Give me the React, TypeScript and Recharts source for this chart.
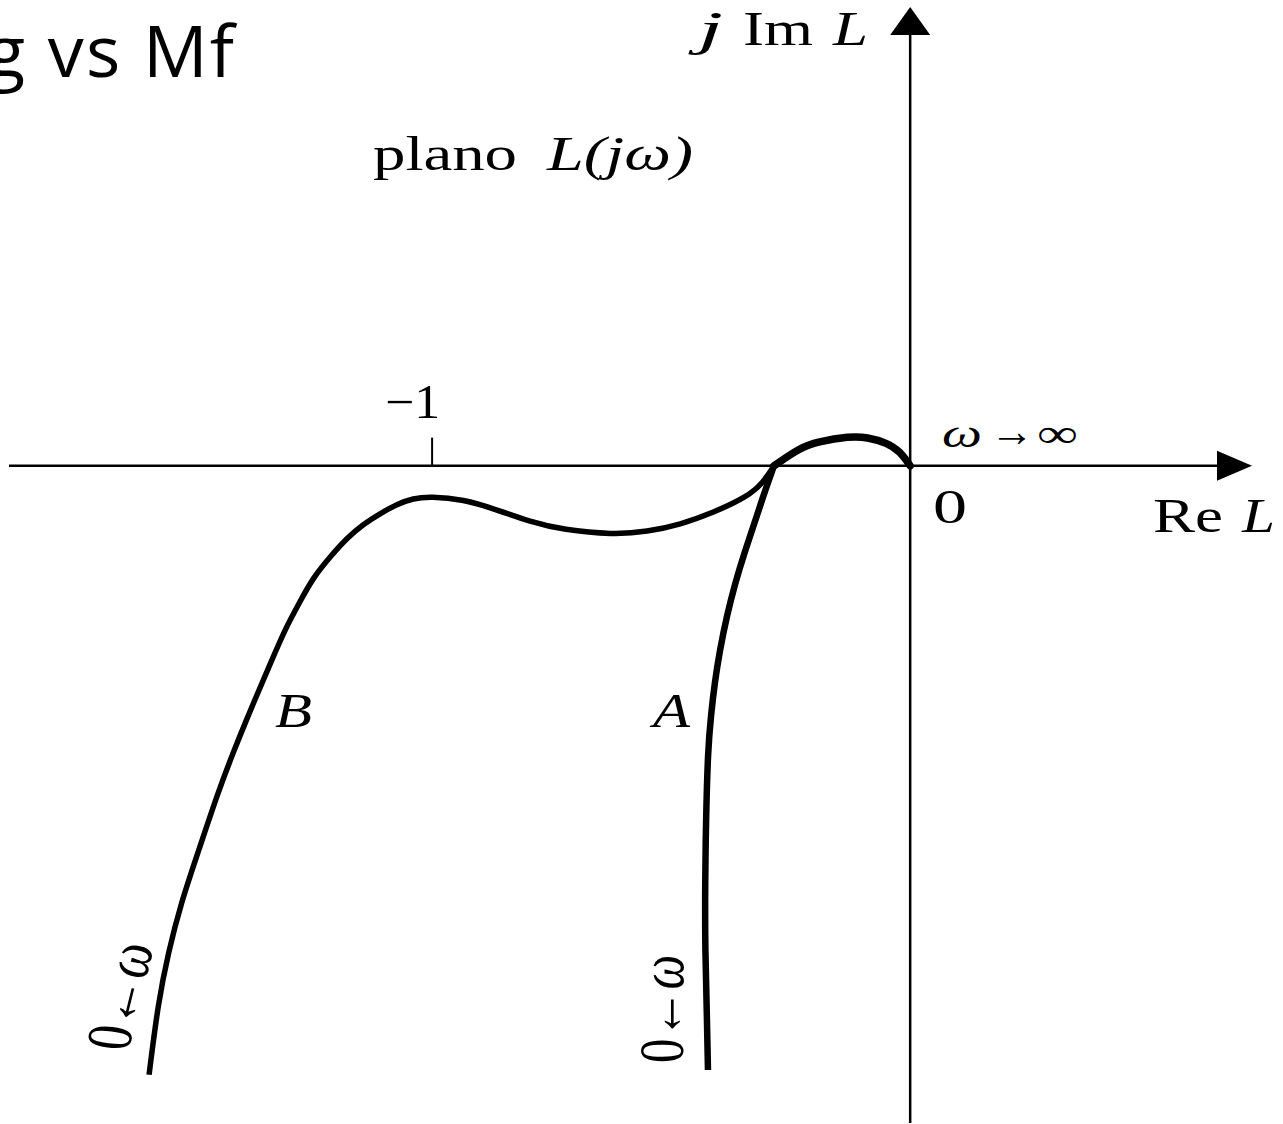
import { LineChart, Line, XAxis, YAxis, ReferenceLine } from "recharts";

type Pt = { re: number; im: number };

// Re/Im samples of L(jω), read in units where −1 is the critical point
const branchB: Pt[] = [
  { re: -1.592, im: -1.274 },
  { re: -1.573, im: -1.123 },
  { re: -1.552, im: -1.019 },
  { re: -1.525, im: -0.914 },
  { re: -1.49, im: -0.81 },
  { re: -1.446, im: -0.678 },
  { re: -1.416, im: -0.6 },
  { re: -1.391, im: -0.538 },
  { re: -1.362, im: -0.469 },
  { re: -1.335, im: -0.406 },
  { re: -1.308, im: -0.343 },
  { re: -1.278, im: -0.287 },
  { re: -1.249, im: -0.234 },
  { re: -1.213, im: -0.19 },
  { re: -1.178, im: -0.151 },
  { re: -1.144, im: -0.122 },
  { re: -1.109, im: -0.1 },
  { re: -1.073, im: -0.08 },
  { re: -1.04, im: -0.068 },
  { re: -1.004, im: -0.064 },
  { re: -0.935, im: -0.07 },
  { re: -0.864, im: -0.092 },
  { re: -0.795, im: -0.117 },
  { re: -0.726, im: -0.134 },
  { re: -0.621, im: -0.144 },
  { re: -0.55, im: -0.138 },
  { re: -0.481, im: -0.123 },
  { re: -0.412, im: -0.098 },
  { re: -0.341, im: -0.065 },
  { re: -0.308, im: -0.036 },
  { re: -0.285, im: 0 },
];

// ordered from the crossing down to ω → 0
const branchA: Pt[] = [
  { re: -0.285, im: 0 },
  { re: -0.308, im: -0.065 },
  { re: -0.329, im: -0.13 },
  { re: -0.346, im: -0.18 },
  { re: -0.366, im: -0.245 },
  { re: -0.384, im: -0.316 },
  { re: -0.398, im: -0.385 },
  { re: -0.409, im: -0.454 },
  { re: -0.417, im: -0.525 },
  { re: -0.423, im: -0.594 },
  { re: -0.427, im: -0.734 },
  { re: -0.429, im: -0.872 },
  { re: -0.429, im: -1.013 },
  { re: -0.425, im: -1.153 },
  { re: -0.423, im: -1.264 },
];

// shared high-frequency part ending at the origin (ω → ∞)
const hfLoop: Pt[] = [
  { re: -0.285, im: 0 },
  { re: -0.23, im: 0.038 },
  { re: -0.195, im: 0.05 },
  { re: -0.126, im: 0.062 },
  { re: -0.09, im: 0.06 },
  { re: -0.048, im: 0.048 },
  { re: -0.021, im: 0.03 },
  { re: 0, im: 0 },
];

const reDomain: [number, number] = [-1.885, 0.715];
const imDomain: [number, number] = [-1.375, 0.96];
const criticalRe = -1;

const W = 1283;
const H = 1124;
const serif = "'Liberation Serif', 'Times New Roman', serif";

function HorizontalArrow(p: any) {
  const x1 = Math.min(p.x1, p.x2);
  const x2 = Math.max(p.x1, p.x2);
  const y = p.y1;
  return (
    <g>
      <line x1={x1} y1={y} x2={x2 - 20} y2={y} stroke="#000" strokeWidth={2.5} />
      <polygon points={`${x2},${y} ${x2 - 35},${y - 15} ${x2 - 35},${y + 15}`} fill="#000" />
    </g>
  );
}

function VerticalArrow(p: any) {
  const top = Math.min(p.y1, p.y2);
  const bottom = Math.max(p.y1, p.y2);
  const x = p.x1;
  return (
    <g>
      <line x1={x} y1={bottom} x2={x} y2={top + 20} stroke="#000" strokeWidth={2.5} />
      <polygon points={`${x},${top} ${x - 20},${top + 28} ${x + 20},${top + 28}`} fill="#000" />
    </g>
  );
}

function T({
  x,
  y,
  w,
  size = 48,
  italic,
  children,
}: {
  x: number;
  y: number;
  w: number;
  size?: number;
  italic?: boolean;
  children: string;
}) {
  return (
    <text
      x={x}
      y={y}
      textLength={w}
      lengthAdjust="spacingAndGlyphs"
      fontSize={size}
      fontFamily={serif}
      fontStyle={italic ? "italic" : "normal"}
      fill="#000"
    >
      {children}
    </text>
  );
}

// rotated "ω → 0" markers at the low-frequency ends
function LowFreqTag({ x, y, angle }: { x: number; y: number; angle: number }) {
  return (
    <text
      transform={`translate(${x},${y}) scale(1.4,1) rotate(${angle})`}
      textLength={108}
      lengthAdjust="spacingAndGlyphs"
      fontSize={46}
      fontFamily={serif}
      fill="#000"
    >
      0←<tspan fontStyle="italic">ω</tspan>
    </text>
  );
}

export default function App() {
  return (
    <div style={{ position: "absolute", left: 0, top: 0, width: W, height: H, background: "#fff" }}>
      <LineChart width={W} height={H} margin={{ top: 7, right: 31, bottom: 1, left: 9 }}>
        <XAxis type="number" dataKey="re" domain={reDomain} allowDataOverflow hide />
        <YAxis type="number" dataKey="im" domain={imDomain} allowDataOverflow hide />
        <ReferenceLine y={0} shape={HorizontalArrow} />
        <ReferenceLine x={0} shape={VerticalArrow} />
        <ReferenceLine
          segment={[
            { x: criticalRe, y: 0 },
            { x: criticalRe, y: 0.059 },
          ]}
          stroke="#000"
          strokeWidth={2}
        />
        <Line
          data={branchB}
          dataKey="im"
          type="basis"
          stroke="#000"
          strokeWidth={5.5}
          dot={false}
          activeDot={false}
          isAnimationActive={false}
        />
        <Line
          data={branchA}
          dataKey="im"
          type="basis"
          stroke="#000"
          strokeWidth={6.5}
          dot={false}
          activeDot={false}
          isAnimationActive={false}
        />
        <Line
          data={hfLoop}
          dataKey="im"
          type="basis"
          stroke="#000"
          strokeWidth={7.5}
          strokeLinecap="round"
          dot={false}
          activeDot={false}
          isAnimationActive={false}
        />
      </LineChart>

      <svg
        width={W}
        height={H}
        style={{ position: "absolute", left: 0, top: 0, pointerEvents: "none" }}
      >
        <text
          x={-14}
          y={77}
          textLength={248}
          lengthAdjust="spacing"
          fontSize={72}
          fontFamily="'Open Sans', 'Noto Sans', sans-serif"
          fill="#000"
        >
          g vs Mf
        </text>

        <T x={698} y={45} w={25} italic>j</T>
        <T x={743} y={45} w={70}>Im</T>
        <T x={833} y={45} w={35} italic>L</T>

        <T x={373} y={170} w={144}>plano</T>
        <T x={547} y={170} w={146} italic>L(jω)</T>

        <T x={385} y={418} w={55}>−1</T>

        <T x={942} y={447} w={40} size={40} italic>ω</T>
        <T x={990} y={446} w={44} size={44}>→</T>
        <T x={1037} y={447} w={41} size={40}>∞</T>

        <T x={933} y={523} w={34}>0</T>
        <T x={1153} y={532} w={70}>Re</T>
        <T x={1242} y={532} w={33} italic>L</T>

        <T x={275} y={727} w={37} italic>B</T>
        <T x={653} y={727} w={37} italic>A</T>

        <LowFreqTag x={128} y={1052} angle={-80} />
        <LowFreqTag x={683} y={1063} angle={-90} />
      </svg>
    </div>
  );
}
